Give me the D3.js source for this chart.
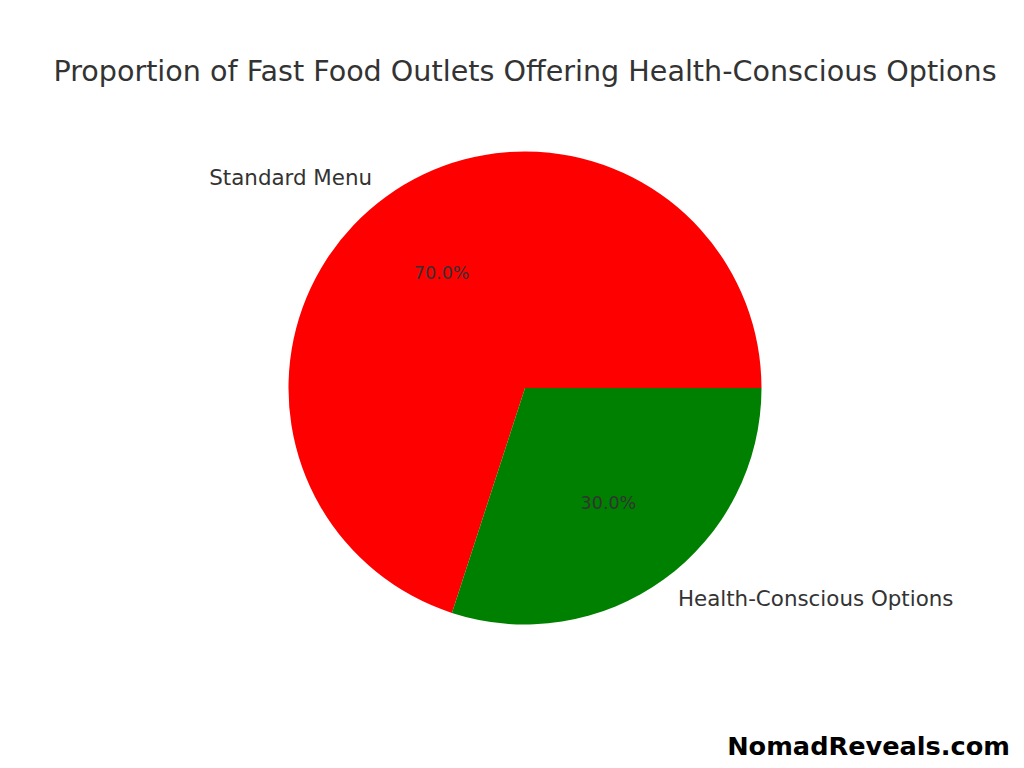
<!DOCTYPE html>
<html>
<head>
<meta charset="utf-8">
<script src="https://cdnjs.cloudflare.com/ajax/libs/d3/7.8.5/d3.min.js"></script>
<style>
	body { margin: 0; background: #ffffff; }
	text { font-family: "DejaVu Sans", sans-serif; }
</style>
</head>
<body>
<svg id="chart"></svg>
<script>
var categories = ["Standard Menu", "Health-Conscious Options"];
var values = [70, 30];
var colors = ["#ff0000", "#008000"];
var title = "Proportion of Fast Food Outlets Offering Health-Conscious Options";
var watermark = "NomadReveals.com";

var width = 1024, height = 768;
var cx = 525, cy = 388, radius = 236.5;

var svg = d3.select("#chart")
	.attr("width", width)
	.attr("height", height);

svg.append("rect")
	.attr("width", width)
	.attr("height", height)
	.attr("fill", "#ffffff");

svg.append("text")
	.attr("x", cx)
	.attr("y", 81)
	.attr("text-anchor", "middle")
	.attr("font-size", 28.6)
	.attr("fill", "#333333")
	.text(title);

// matplotlib style: start at 3 o'clock, go counterclockwise
var pie = d3.pie()
	.sort(null)
	.startAngle(Math.PI / 2)
	.endAngle(Math.PI / 2 - 2 * Math.PI);

var arcs = pie(values);
var total = d3.sum(values);

var arc = d3.arc().innerRadius(0).outerRadius(radius);

var g = svg.append("g").attr("transform", "translate(" + cx + "," + cy + ")");

g.selectAll(".slice")
	.data(arcs)
	.enter()
	.append("path")
	.attr("class", "slice")
	.attr("d", arc)
	.attr("fill", function(d, i) { return colors[i]; });

function midPoint(d, r) {
	var a = (d.startAngle + d.endAngle) / 2;
	return [Math.sin(a) * r, -Math.cos(a) * r];
}

g.selectAll(".label")
	.data(arcs)
	.enter()
	.append("text")
	.attr("class", "label")
	.attr("x", function(d) { return midPoint(d, radius * 1.1)[0]; })
	.attr("y", function(d) { return midPoint(d, radius * 1.1)[1]; })
	.attr("text-anchor", function(d) { return midPoint(d, 1)[0] < 0 ? "end" : "start"; })
	.attr("dominant-baseline", "central")
	.attr("font-size", 21.4)
	.attr("fill", "#333333")
	.text(function(d, i) { return categories[i]; });

g.selectAll(".pct")
	.data(arcs)
	.enter()
	.append("text")
	.attr("class", "pct")
	.attr("x", function(d) { return midPoint(d, radius * 0.6)[0]; })
	.attr("y", function(d) { return midPoint(d, radius * 0.6)[1]; })
	.attr("text-anchor", "middle")
	.attr("dominant-baseline", "central")
	.attr("font-size", 17.5)
	.attr("fill", "#333333")
	.text(function(d) { return (d.value / total * 100).toFixed(1) + "%"; });

svg.append("text")
	.attr("x", 1010)
	.attr("y", 755)
	.attr("text-anchor", "end")
	.attr("font-size", 25.6)
	.attr("font-weight", "bold")
	.attr("fill", "#000000")
	.text(watermark);
</script>
</body>
</html>
